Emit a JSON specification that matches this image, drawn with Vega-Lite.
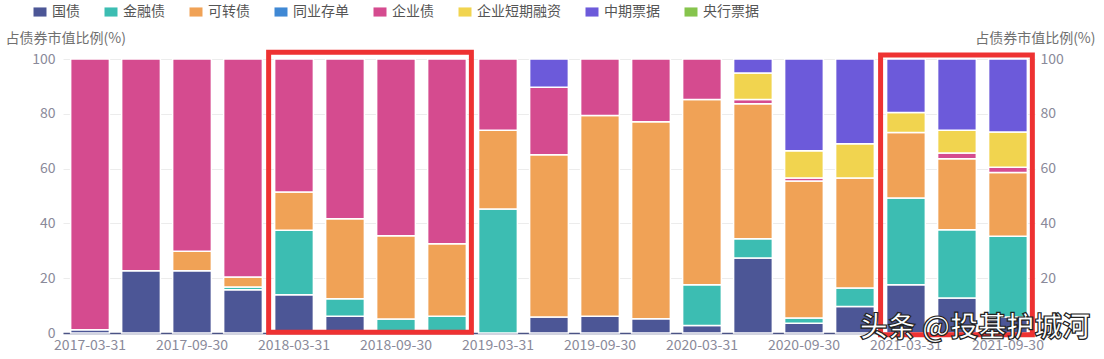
{
  "$schema": "https://vega.github.io/schema/vega-lite/v6.json",
  "width": 972,
  "height": 274,
  "autosize": {"type": "none"},
  "padding": {"left": 63, "top": 59, "right": 69, "bottom": 26},
  "config": {
    "font": "Noto Sans CJK SC",
    "view": {"stroke": null},
    "axis": {"labelColor": "#8a8a9a", "labelFontSize": 14, "titleColor": "#707070", "titleFontSize": 14, "titleFontWeight": "normal", "gridColor": "#ececec"}
  },
  "datasets": {
    "cats": [
      {"cat": "国债", "k": 0}, {"cat": "金融债", "k": 1}, {"cat": "可转债", "k": 2}, {"cat": "同业存单", "k": 3},
      {"cat": "企业债", "k": 4}, {"cat": "企业短期融资", "k": 5}, {"cat": "中期票据", "k": 6}, {"cat": "央行票据", "k": 7}
    ],
    "bonds": [
      {"d": "2017-03-31", "cat": "国债", "v": 1.2}, {"d": "2017-03-31", "cat": "企业债", "v": 98.8},
      {"d": "2017-06-30", "cat": "国债", "v": 22.7}, {"d": "2017-06-30", "cat": "企业债", "v": 77.3},
      {"d": "2017-09-30", "cat": "国债", "v": 22.7}, {"d": "2017-09-30", "cat": "可转债", "v": 7.1}, {"d": "2017-09-30", "cat": "企业债", "v": 70.2},
      {"d": "2017-12-31", "cat": "国债", "v": 15.8}, {"d": "2017-12-31", "cat": "金融债", "v": 1.0}, {"d": "2017-12-31", "cat": "可转债", "v": 3.6}, {"d": "2017-12-31", "cat": "企业债", "v": 79.6},
      {"d": "2018-03-31", "cat": "国债", "v": 14.0}, {"d": "2018-03-31", "cat": "金融债", "v": 23.5}, {"d": "2018-03-31", "cat": "可转债", "v": 14.0}, {"d": "2018-03-31", "cat": "企业债", "v": 48.5},
      {"d": "2018-06-30", "cat": "国债", "v": 6.1}, {"d": "2018-06-30", "cat": "金融债", "v": 6.4}, {"d": "2018-06-30", "cat": "可转债", "v": 29.2}, {"d": "2018-06-30", "cat": "企业债", "v": 58.3},
      {"d": "2018-09-30", "cat": "金融债", "v": 5.1}, {"d": "2018-09-30", "cat": "可转债", "v": 30.4}, {"d": "2018-09-30", "cat": "企业债", "v": 64.5},
      {"d": "2018-12-31", "cat": "金融债", "v": 6.1}, {"d": "2018-12-31", "cat": "可转债", "v": 26.5}, {"d": "2018-12-31", "cat": "企业债", "v": 67.4},
      {"d": "2019-03-31", "cat": "金融债", "v": 45.3}, {"d": "2019-03-31", "cat": "可转债", "v": 28.7}, {"d": "2019-03-31", "cat": "企业债", "v": 26.0},
      {"d": "2019-06-30", "cat": "国债", "v": 5.8}, {"d": "2019-06-30", "cat": "可转债", "v": 59.3}, {"d": "2019-06-30", "cat": "企业债", "v": 24.6}, {"d": "2019-06-30", "cat": "中期票据", "v": 10.3},
      {"d": "2019-09-30", "cat": "国债", "v": 6.1}, {"d": "2019-09-30", "cat": "可转债", "v": 73.3}, {"d": "2019-09-30", "cat": "企业债", "v": 20.6},
      {"d": "2019-12-31", "cat": "国债", "v": 5.2}, {"d": "2019-12-31", "cat": "可转债", "v": 71.9}, {"d": "2019-12-31", "cat": "企业债", "v": 22.9},
      {"d": "2020-03-31", "cat": "国债", "v": 2.7}, {"d": "2020-03-31", "cat": "金融债", "v": 14.9}, {"d": "2020-03-31", "cat": "可转债", "v": 67.6}, {"d": "2020-03-31", "cat": "企业债", "v": 14.8},
      {"d": "2020-06-30", "cat": "国债", "v": 27.4}, {"d": "2020-06-30", "cat": "金融债", "v": 7.0}, {"d": "2020-06-30", "cat": "可转债", "v": 49.3}, {"d": "2020-06-30", "cat": "企业债", "v": 1.5}, {"d": "2020-06-30", "cat": "企业短期融资", "v": 9.7}, {"d": "2020-06-30", "cat": "中期票据", "v": 5.1},
      {"d": "2020-09-30", "cat": "国债", "v": 3.6}, {"d": "2020-09-30", "cat": "金融债", "v": 1.9}, {"d": "2020-09-30", "cat": "可转债", "v": 50.0}, {"d": "2020-09-30", "cat": "企业债", "v": 1.1}, {"d": "2020-09-30", "cat": "企业短期融资", "v": 9.9}, {"d": "2020-09-30", "cat": "中期票据", "v": 33.5},
      {"d": "2020-12-31", "cat": "国债", "v": 9.7}, {"d": "2020-12-31", "cat": "金融债", "v": 6.7}, {"d": "2020-12-31", "cat": "可转债", "v": 40.2}, {"d": "2020-12-31", "cat": "企业短期融资", "v": 12.5}, {"d": "2020-12-31", "cat": "中期票据", "v": 30.9},
      {"d": "2021-03-31", "cat": "国债", "v": 17.6}, {"d": "2021-03-31", "cat": "金融债", "v": 31.7}, {"d": "2021-03-31", "cat": "可转债", "v": 23.9}, {"d": "2021-03-31", "cat": "企业短期融资", "v": 7.3}, {"d": "2021-03-31", "cat": "中期票据", "v": 19.5},
      {"d": "2021-06-30", "cat": "国债", "v": 12.8}, {"d": "2021-06-30", "cat": "金融债", "v": 24.9}, {"d": "2021-06-30", "cat": "可转债", "v": 25.9}, {"d": "2021-06-30", "cat": "企业债", "v": 2.1}, {"d": "2021-06-30", "cat": "企业短期融资", "v": 8.3}, {"d": "2021-06-30", "cat": "中期票据", "v": 26.0},
      {"d": "2021-09-30", "cat": "国债", "v": 5.8}, {"d": "2021-09-30", "cat": "金融债", "v": 29.5}, {"d": "2021-09-30", "cat": "可转债", "v": 23.3}, {"d": "2021-09-30", "cat": "企业债", "v": 1.9}, {"d": "2021-09-30", "cat": "企业短期融资", "v": 12.9}, {"d": "2021-09-30", "cat": "中期票据", "v": 26.6}
    ],
    "boxes": [
      {"s": "2018-03-31", "e": "2018-12-31", "lo": 0.3, "hi": 102.5},
      {"s": "2021-03-31", "e": "2021-09-30", "lo": -0.6, "hi": 101.5}
    ],
    "mark": [
      {"d": "2021-06-30", "v": 1.5, "t": "头条 @投基护城河"}
    ]
  },
  "layer": [
    {
      "data": {"name": "bonds"},
      "transform": [
        {"lookup": "cat", "from": {"data": {"name": "cats"}, "key": "cat", "fields": ["k"]}}
      ],
      "mark": {"type": "bar", "stroke": "white", "strokeWidth": 1.5},
      "encoding": {
        "x": {
          "field": "d", "type": "ordinal", "title": null,
          "scale": {"paddingInner": 0.24, "paddingOuter": 0.15},
          "axis": {
            "labelAngle": 0, "ticks": false, "labelPadding": 5,
            "values": ["2017-03-31", "2017-09-30", "2018-03-31", "2018-09-30", "2019-03-31", "2019-09-30", "2020-03-31", "2020-09-30", "2021-03-31", "2021-09-30"],
            "domainColor": "#4b5385", "domainWidth": 1.5
          }
        },
        "y": {
          "field": "v", "type": "quantitative", "stack": "zero",
          "scale": {"domain": [0, 100], "nice": false},
          "axis": {
            "orient": "left", "title": "占债券市值比例(%)", "values": [0, 20, 40, 60, 80, 100],
            "domain": false, "ticks": false, "labelPadding": 8,
            "titleAngle": 0, "titleAlign": "left", "titleBaseline": "middle", "titleX": -58, "titleY": -21
          }
        },
        "order": {"field": "k", "type": "quantitative", "sort": "ascending"},
        "color": {
          "field": "cat", "type": "nominal",
          "sort": ["国债", "金融债", "可转债", "同业存单", "企业债", "企业短期融资", "中期票据", "央行票据"],
          "scale": {
            "domain": ["国债", "金融债", "可转债", "同业存单", "企业债", "企业短期融资", "中期票据", "央行票据"],
            "range": ["#4c5696", "#3cbdb2", "#f0a256", "#3f88d4", "#d54b8f", "#f1d44f", "#6c5ada", "#86c44d"]
          },
          "legend": {
            "title": null, "orient": "none", "legendX": -30, "legendY": -54,
            "direction": "horizontal", "columns": 8, "columnPadding": 24,
            "symbolType": "M-1,-0.7H1V0.7H-1Z", "symbolSize": 169, "symbolStrokeWidth": 0,
            "labelFontSize": 14, "labelColor": "#555555", "labelOffset": 5
          }
        }
      }
    },
    {
      "data": {"name": "boxes"},
      "mark": {"type": "rect", "fill": null, "stroke": "#ee3232", "strokeWidth": 5, "xOffset": -6, "x2Offset": 5},
      "encoding": {
        "x": {"field": "s", "type": "ordinal", "bandPosition": 0, "title": null},
        "x2": {"field": "e", "bandPosition": 1},
        "y": {
          "field": "lo", "type": "quantitative",
          "scale": {"domain": [0, 100], "nice": false},
          "axis": {
            "orient": "right", "title": "占债券市值比例(%)", "values": [0, 20, 40, 60, 80, 100],
            "domain": false, "ticks": false, "grid": false, "labelPadding": 5,
            "titleAngle": 0, "titleAlign": "right", "titleBaseline": "middle", "titleX": 60, "titleY": -21
          }
        },
        "y2": {"field": "hi"}
      }
    },
    {
      "data": {"name": "mark"},
      "mark": {"type": "text", "fontSize": 28, "fontWeight": "bold", "fill": "white", "stroke": "#222222", "strokeWidth": 1.2, "dx": 18},
      "encoding": {
        "x": {"field": "d", "type": "ordinal", "title": null},
        "y": {"field": "v", "type": "quantitative", "axis": null},
        "text": {"field": "t"}
      }
    }
  ],
  "resolve": {"axis": {"y": "independent"}}
}
